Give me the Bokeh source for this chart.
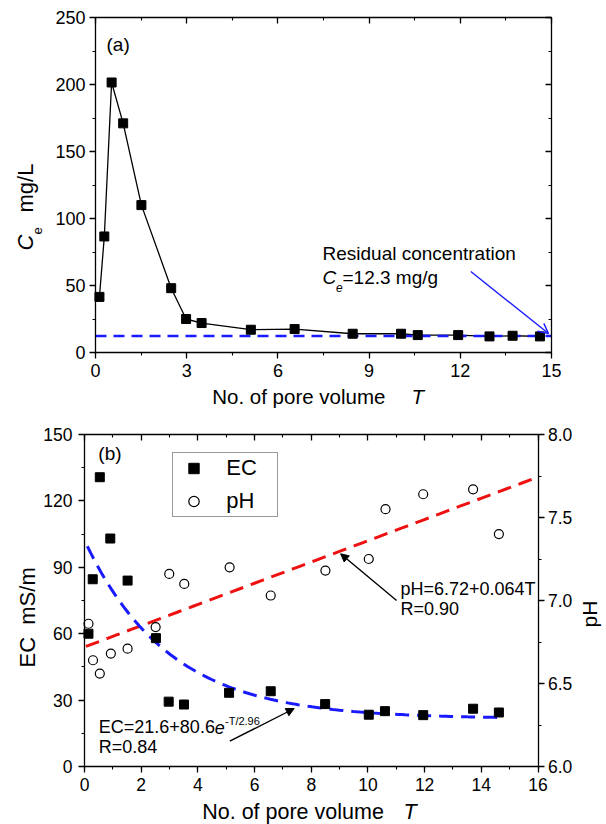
import numpy as np
from bokeh.plotting import figure
from bokeh.models import (Range1d, LinearAxis, SingleIntervalTicker, Label, Arrow,
                          OpenHead, NormalHead, Legend, LegendItem,
                          PrintfTickFormatter)
from bokeh.embed import file_html
from bokeh.resources import INLINE

FONT = "Liberation Sans"
NBSP = "\u00a0"

# ---------------- data: panel (a) ----------------
t_a = [0.13, 0.29, 0.53, 0.91, 1.51, 2.49, 2.98, 3.49, 5.11, 6.55, 8.46, 10.05,
       10.6, 11.93, 12.96, 13.72, 14.62]
ce_a = [41.5, 86.6, 201.5, 171, 110, 48, 25, 22, 17, 17.5, 14, 14, 13, 13, 12,
        12.5, 12]
ce_residual = 12.3

# ---------------- data: panel (b) ----------------
t_ec = [0.14, 0.29, 0.54, 0.91, 1.52, 2.52, 2.97, 3.51, 5.1, 6.57, 8.49, 10.03,
        10.6, 11.95, 13.71, 14.62]
ec = [60, 84.6, 130.7, 103, 84, 58, 29.3, 28, 33.3, 34, 28.2, 23.4, 25, 23.2,
      26.1, 24.4]
t_ph = [0.14, 0.3, 0.54, 0.93, 1.52, 2.51, 2.99, 3.52, 5.12, 6.57, 8.5, 10.03,
        10.62, 11.95, 13.71, 14.62]
ph = [6.86, 6.64, 6.56, 6.68, 6.71, 6.84, 7.16, 7.10, 7.20, 7.03, 7.18, 7.25,
      7.55, 7.64, 7.67, 7.40]

# fitted equations shown on the chart
ph_fit = (6.72, 0.064)            # pH = a + b*T
ec_fit = (21.6, 80.6, 2.96)       # EC = a + b*exp(-T/c)
ec_fit_span = (0.1, 14.6)

# axis extents
XA, YA = (0, 15), (0, 250)
XB, YB, YPH = (0, 16), (0, 150), (6, 8)

# ---------------- page geometry (pixels from top-left) ----------------
W, H = 606, 824
GA = dict(L=95, R=551, T=17, B=352)          # axes box of panel (a)
GB = dict(L=84, R=537.5, T=434, B=766)       # axes box of panel (b)


def full_range(v, p, total):
    """range covering the whole canvas, given values v at pixels p (from start)"""
    s = (v[1] - v[0]) / (p[1] - p[0])
    start = v[0] - p[0] * s
    return Range1d(start, start + total * s)


xr_a = full_range(XA, (GA["L"], GA["R"]), W)
yr_a = full_range(YA, (H - GA["B"], H - GA["T"]), H)
xr_b = full_range(XB, (GB["L"], GB["R"]), W)
yr_b = full_range(YB, (H - GB["B"], H - GB["T"]), H)
yr_ph = full_range(YPH, (H - GB["B"], H - GB["T"]), H)

p = figure(width=W, height=H, x_range=xr_a, y_range=yr_a,
           x_axis_location=None, y_axis_location=None,
           output_backend="svg", toolbar_location=None,
           min_border_left=0, min_border_right=0, min_border_top=0,
           min_border_bottom=0)
p.extra_x_ranges = {"xb": xr_b}
p.extra_y_ranges = {"ecb": yr_b, "phb": yr_ph}
p.grid.visible = False
p.outline_line_color = None
p.background_fill_color = "white"
p.border_fill_color = "white"


def P(px, py):
    """page pixel -> default-range data coordinates (for annotations)"""
    x = xr_a.start + px / W * (xr_a.end - xr_a.start)
    y = yr_a.start + (H - py) / H * (yr_a.end - yr_a.start)
    return x, y


def make_axis(side, ticker, fixed, bounds, size="18px", labels=True,
              inward=False, standoff=5, x_name="default", y_name="default",
              formatter=None):
    kw = dict(ticker=ticker, fixed_location=fixed, bounds=bounds,
              x_range_name=x_name, y_range_name=y_name)
    if formatter is not None:
        kw["formatter"] = formatter
    ax = LinearAxis(**kw)
    ax.axis_line_width = 1.3
    ax.axis_line_color = "black"
    ax.major_tick_line_width = 1.3
    ax.minor_tick_line_width = 1.1
    ax.major_tick_line_color = "black"
    ax.minor_tick_line_color = "black"
    if inward:
        ax.major_tick_in, ax.major_tick_out = 6, 0
        ax.minor_tick_in, ax.minor_tick_out = 3, 0
    else:
        ax.major_tick_in, ax.major_tick_out = 0, 6
        ax.minor_tick_in, ax.minor_tick_out = 0, 3
    ax.major_label_text_font = FONT
    if labels:
        ax.major_label_text_font_size = size
        ax.major_label_text_color = "black"
        ax.major_label_standoff = standoff
    else:
        ax.major_label_text_font_size = "1px"
        ax.major_label_text_color = None
        ax.major_label_standoff = 0
    p.add_layout(ax, side)
    return ax


def add_label(px, py, text, size, italic=False, angle=0.0):
    """(px, py): left end of the text, at the vertical middle of its capitals"""
    x, y = P(px, py)
    p.add_layout(Label(x=x, y=y, text=text, text_font=FONT, text_font_size=size,
                       text_font_style="italic" if italic else "normal",
                       text_color="black", text_align="left",
                       text_baseline="middle", angle=angle))


def add_arrow(p0, p1, head, color):
    x0, y0 = P(*p0)
    x1, y1 = P(*p1)
    p.add_layout(Arrow(end=head, x_start=x0, y_start=y0, x_end=x1, y_end=y1,
                       line_color=color, line_width=1.4))


# ================= panel (a) =================
xt_a = SingleIntervalTicker(interval=3, num_minor_ticks=2)
yt_a = SingleIntervalTicker(interval=50, num_minor_ticks=2)
make_axis("below", xt_a, YA[0], XA, size="18px", standoff=5)
make_axis("left", yt_a, XA[0], YA, size="18px", standoff=4)
make_axis("above", xt_a, YA[1], XA, labels=False, inward=True)
make_axis("right", yt_a, XA[1], YA, labels=False, inward=True)

p.line(t_a, ce_a, line_color="black", line_width=1.3)
p.line([XA[0], XA[1]], [ce_residual, ce_residual], line_color="#1a1aff",
       line_width=2.5, line_dash="11 7")
p.scatter(t_a, ce_a, marker="square", size=9, fill_color="black",
          line_color="black")

add_label(106, 43.5, "(a)", "19px")
add_label(322, 253.2, "Residual concentration", "19px")
add_label(322, 276.5, "C", "19px", italic=True)
add_label(335.5, 287.3, "e", "12px", italic=True)
add_label(342, 276.5, "=12.3 mg/g", "19px")
add_arrow((470.3, 271), (548, 333),
          OpenHead(size=10, line_color="#1a1aff", line_width=1.4), "#1a1aff")

add_label(211.7, 395.7, "No. of pore volume", "20.5px")
add_label(411, 395.7, "T", "20.5px", italic=True)
add_label(25.4, 250, "C", "22px", italic=True, angle=np.pi / 2)
add_label(37.0, 234, "e", "13px", angle=np.pi / 2)
add_label(25.4, 212, "mg/L", "22px", angle=np.pi / 2)

# ================= panel (b) =================
xt_b = SingleIntervalTicker(interval=2, num_minor_ticks=2)
yt_b = SingleIntervalTicker(interval=30, num_minor_ticks=2)
pht_b = SingleIntervalTicker(interval=0.5, num_minor_ticks=2)
make_axis("below", xt_b, YB[0], XB, size="17.5px", standoff=5,
          x_name="xb", y_name="ecb")
make_axis("left", yt_b, XB[0], YB, size="17.5px", standoff=6,
          x_name="xb", y_name="ecb")
make_axis("above", xt_b, YB[1], XB, labels=False, inward=True,
          x_name="xb", y_name="ecb")
make_axis("right", pht_b, XB[1], YPH, size="17.5px", standoff=4,
          x_name="xb", y_name="phb", formatter=PrintfTickFormatter(format="%.1f"))

t_line_ph = np.linspace(XB[0] + 0.05, XB[1], 60)
p.line(t_line_ph, ph_fit[0] + ph_fit[1] * t_line_ph, x_range_name="xb",
       y_range_name="phb", line_color="#ee1111", line_width=3, line_dash="14 8")
t_line_ec = np.linspace(ec_fit_span[0], ec_fit_span[1], 120)
p.line(t_line_ec, ec_fit[0] + ec_fit[1] * np.exp(-t_line_ec / ec_fit[2]),
       x_range_name="xb", y_range_name="ecb",
       line_color="#1a1aff", line_width=3, line_dash="14 8")

r_ec = p.scatter(t_ec, ec, marker="square", size=9, fill_color="black",
                 line_color="black", x_range_name="xb", y_range_name="ecb")
r_ph = p.scatter(t_ph, ph, marker="circle", size=9, fill_color="white",
                 line_color="black", line_width=1.2,
                 x_range_name="xb", y_range_name="phb")

legend = Legend(items=[LegendItem(label="EC", renderers=[r_ec]),
                       LegendItem(label="pH", renderers=[r_ph])],
                location=(172.3, H - 516.7),
                padding=2, spacing=7, margin=0,
                glyph_width=37, glyph_height=26,
                label_height=26, label_width=49, label_standoff=14,
                label_text_font=FONT, label_text_font_size="22px",
                label_text_color="black",
                border_line_color="#333333", border_line_width=1.1,
                background_fill_color="white", background_fill_alpha=1.0)
p.add_layout(legend)

add_label(97.8, 453.2, "(b)", "19px")
add_label(400, 588.6, "pH=6.72+0.064T", "18px")
add_label(400, 608.6, "R=0.90", "18px")
add_arrow((396.1, 600), (340.1, 553.3),
          NormalHead(size=8, fill_color="black", line_color="black"), "black")

add_label(98.3, 726.9, "EC=21.6+80.6", "18px")
add_label(214.3, 726.9, "e", "18px", italic=True)
add_label(224.5, 720, "-T/2.96", "11px")
add_label(98.3, 746.9, "R=0.84", "18px")
add_arrow((229.3, 740.7), (293.7, 708),
          NormalHead(size=8, fill_color="black", line_color="black"), "black")

add_label(201.7, 811.3, "No. of pore volume", "21.5px")
add_label(403, 811.3, "T", "21.5px", italic=True)
add_label(26.7, 667, "EC" + NBSP + NBSP + "mS/m", "22px", angle=np.pi / 2)
add_label(589.2, 627, "pH", "21px", angle=np.pi / 2)

open("out.html", "w").write(file_html(p, INLINE))
